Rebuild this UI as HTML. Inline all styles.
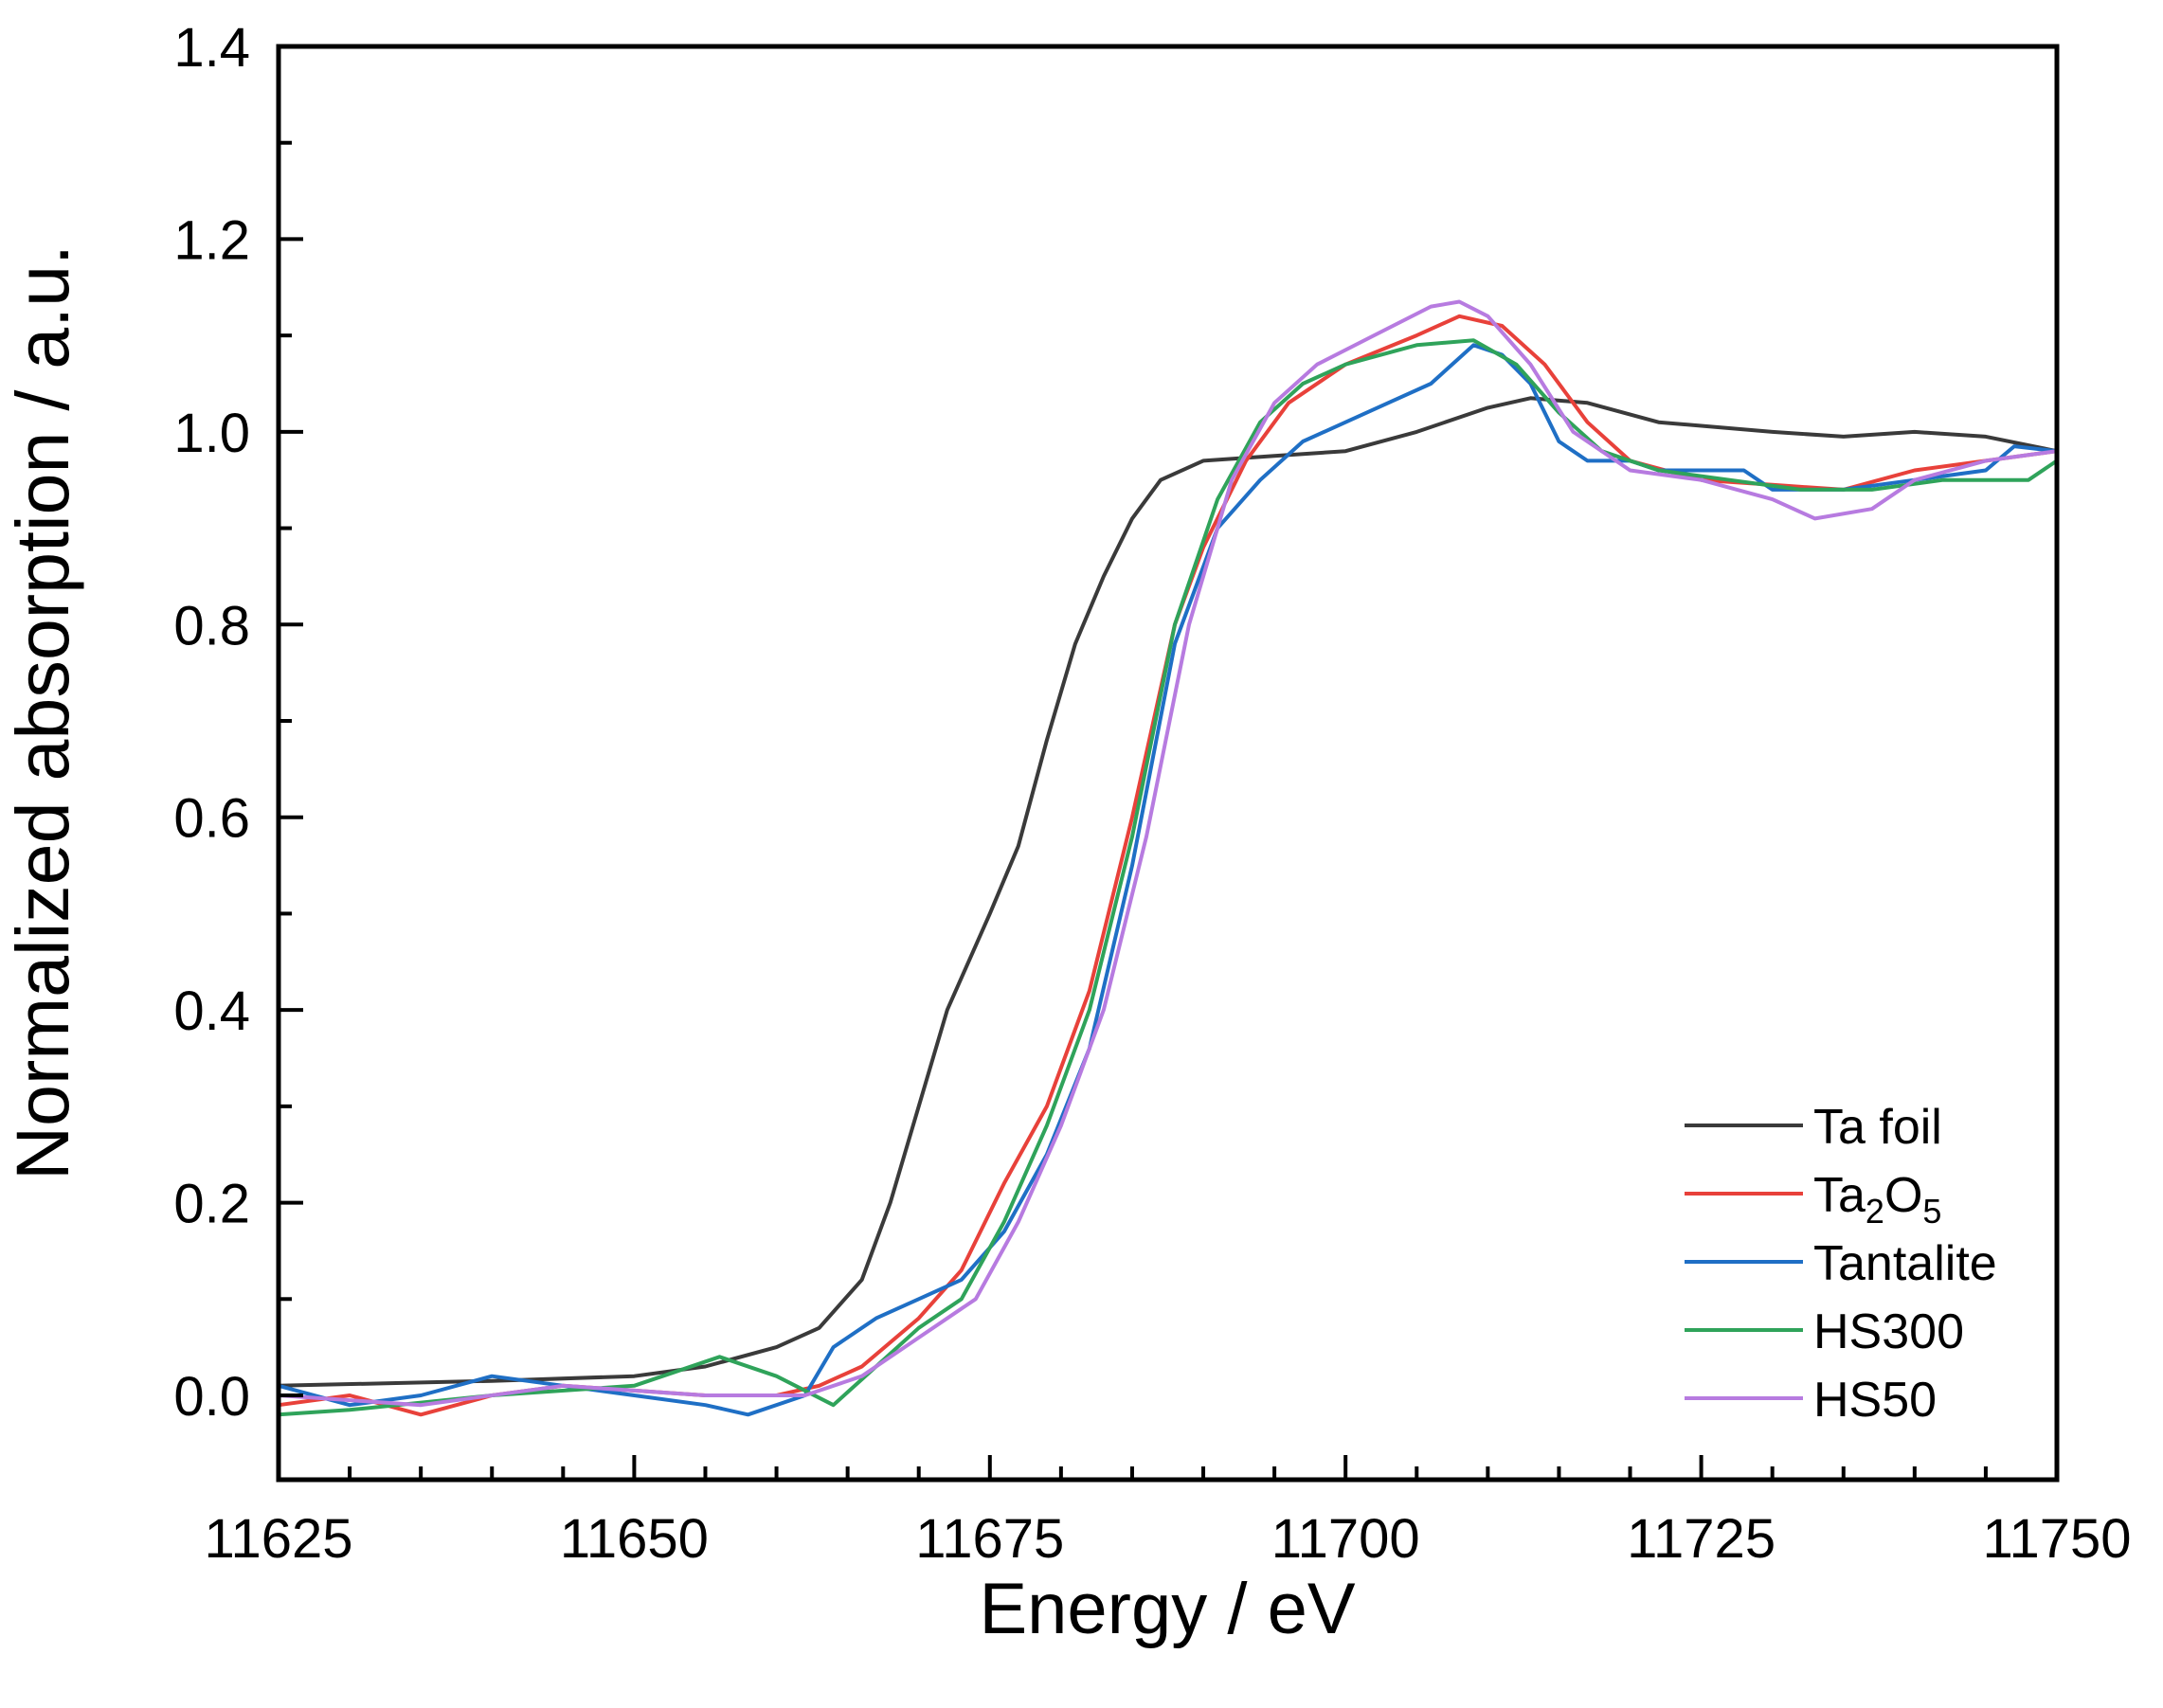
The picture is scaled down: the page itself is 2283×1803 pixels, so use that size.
<!DOCTYPE html>
<html><head><meta charset="utf-8"><style>
body{margin:0;background:#fff;}
svg{display:block;font-family:"Liberation Sans",Arial,sans-serif;}
</style></head><body>
<svg id="chart" width="2283" height="1803" viewBox="0 0 2283 1803" xmlns="http://www.w3.org/2000/svg">
<g id="series"></g>
<g id="axes"></g>
<text x="1232" y="1724" font-size="76" text-anchor="middle">Energy / eV</text>
<text transform="translate(72,752) rotate(-90)" font-size="79" text-anchor="middle">Normalized absorption / a.u.</text>
<g id="legend"></g>
</svg>
<script>
const xTicks=[11625,11650,11675,11700,11725,11750];
const yTicks=[0.0,0.2,0.4,0.6,0.8,1.0,1.2,1.4];
const foilE=[11625,11640,11650,11655,11660,11663,11666,11668,11670,11672,11675,11677,11679,11681,11683,11685,11687,11690,11695,11700,11705,11710,11713,11717,11722,11730,11735,11740,11745,11750];
const foilY=[0.01,0.015,0.02,0.03,0.05,0.07,0.12,0.2,0.3,0.4,0.5,0.57,0.68,0.78,0.85,0.91,0.95,0.97,0.975,0.98,1.0,1.025,1.035,1.03,1.01,1.0,0.995,1.0,0.995,0.98];
const ta2o5E=[11625,11630,11635,11640,11645,11650,11655,11660,11663,11666,11670,11673,11676,11679,11682,11685,11688,11690,11693,11696,11700,11705,11708,11711,11714,11717,11720,11725,11730,11735,11740,11745,11750];
const ta2o5Y=[-0.01,0.0,-0.02,0.0,0.01,0.005,0.0,0.0,0.01,0.03,0.08,0.13,0.22,0.3,0.42,0.6,0.8,0.88,0.97,1.03,1.07,1.1,1.12,1.11,1.07,1.01,0.97,0.95,0.945,0.94,0.96,0.97,0.98];
const tantE=[11625,11630,11635,11640,11645,11650,11655,11658,11662,11664,11667,11670,11673,11676,11679,11682,11685,11688,11691,11694,11697,11700,11703,11706,11709,11711,11713,11715,11717,11720,11722,11725,11728,11730,11735,11740,11745,11747,11750];
const tantY=[0.01,-0.01,0.0,0.02,0.01,0.0,-0.01,-0.02,0.0,0.05,0.08,0.1,0.12,0.17,0.25,0.36,0.55,0.78,0.9,0.95,0.99,1.01,1.03,1.05,1.09,1.08,1.05,0.99,0.97,0.97,0.96,0.96,0.96,0.94,0.94,0.95,0.96,0.985,0.98];
const hs300E=[11625,11630,11640,11650,11656,11660,11664,11667,11670,11673,11676,11679,11682,11685,11688,11691,11694,11697,11700,11705,11709,11712,11715,11718,11722,11727,11732,11737,11742,11748,11750];
const hs300Y=[-0.02,-0.015,0.0,0.01,0.04,0.02,-0.01,0.03,0.07,0.1,0.18,0.28,0.4,0.58,0.8,0.93,1.01,1.05,1.07,1.09,1.095,1.07,1.02,0.98,0.96,0.95,0.94,0.94,0.95,0.95,0.97];
const hs50E=[11625,11635,11645,11655,11662,11666,11670,11674,11677,11680,11683,11686,11689,11692,11695,11698,11702,11706,11708,11710,11713,11716,11720,11725,11730,11733,11737,11740,11745,11750];
const hs50Y=[0.0,-0.01,0.01,0.0,0.0,0.02,0.06,0.1,0.18,0.28,0.4,0.58,0.8,0.95,1.03,1.07,1.1,1.13,1.135,1.12,1.07,1.0,0.96,0.95,0.93,0.91,0.92,0.95,0.97,0.98];
const seriesNames=["Ta foil","Ta2O5","Tantalite","HS300","HS50"];

const X0=294,X1=2171,Y0=49,Y1=1562,xmin=11625,xmax=11750,ymin=-0.0875,ymax=1.4;
const sx=e=>X0+(e-xmin)/(xmax-xmin)*(X1-X0);
const sy=v=>Y1-(v-ymin)/(ymax-ymin)*(Y1-Y0);
const NS="http://www.w3.org/2000/svg";
function mk(tag,attrs,parent){const el=document.createElementNS(NS,tag);for(const k in attrs)el.setAttribute(k,attrs[k]);parent.appendChild(el);return el;}
const sg=document.getElementById('series'),ag=document.getElementById('axes'),lg=document.getElementById('legend');
const series=[[foilE,foilY,'#3a3a3a','series-ta-foil'],[ta2o5E,ta2o5Y,'#e8413a','series-ta2o5'],[tantE,tantY,'#1f6fc5','series-tantalite'],[hs300E,hs300Y,'#2fa35a','series-hs300'],[hs50E,hs50Y,'#b77be0','series-hs50']];
series.forEach(s=>{
  const pts=s[0].map((e,i)=>sx(e).toFixed(1)+','+sy(s[1][i]).toFixed(1)).join(' ');
  const pl=mk('polyline',{points:pts,fill:'none',stroke:s[2],'stroke-width':4,'stroke-linejoin':'round'},sg);
  
  
});
const frame=mk('rect',{x:X0,y:Y0,width:X1-X0,height:Y1-Y0,fill:'none',stroke:'#000','stroke-width':5},ag);


for(let e=xmin;e<=xmax;e+=5){
  const major=(e-xmin)%25===0;
  const t=mk('line',{x1:sx(e),x2:sx(e),y1:Y1,y2:Y1-(major?26:14),stroke:'#000','stroke-width':4},ag);
  
  
}
xTicks.forEach(v=>{
  const t=mk('text',{x:sx(v),y:Y1+82,'font-size':58,'text-anchor':'middle'},ag);t.textContent=v;
  
  
});
for(let i=0;i<=14;i++){
  const v=i*0.1,major=i%2===0;
  const t=mk('line',{x1:X0,x2:X0+(major?26:14),y1:sy(v),y2:sy(v),stroke:'#000','stroke-width':4},ag);
  
  
}
yTicks.forEach(v=>{
  const t=mk('text',{x:X0-30,y:sy(v)+21,'font-size':58,'text-anchor':'end'},ag);t.textContent=v.toFixed(1);
  
  
});
series.forEach((s,i)=>{
  const y=1188+i*72;
  const l=mk('line',{x1:1778,x2:1903,y1:y,y2:y,stroke:s[2],'stroke-width':4},lg);
  
  
  const t=mk('text',{x:1914,y:y+19,'font-size':52},lg);
  if(i===1){t.innerHTML='Ta<tspan font-size="36" dy="12">2</tspan><tspan dy="-12">O</tspan><tspan font-size="36" dy="12">5</tspan>';}
  else t.textContent=seriesNames[i];
  
  
});
</script>
</body></html>
